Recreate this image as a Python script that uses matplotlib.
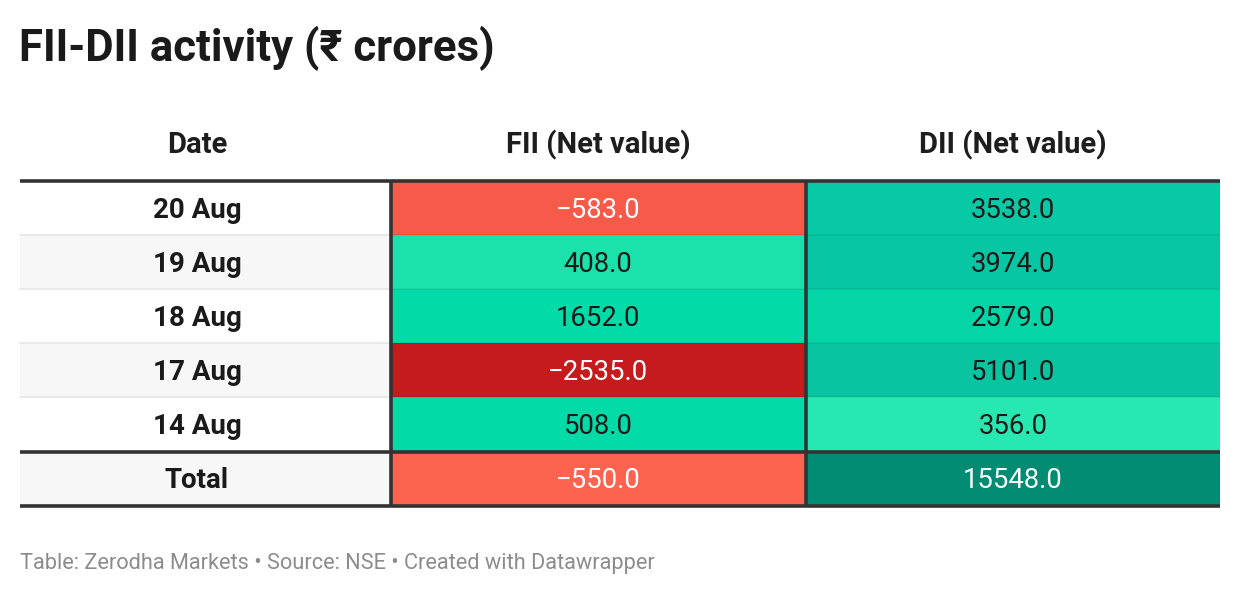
import matplotlib
matplotlib.use("Agg")
import matplotlib.pyplot as plt
from matplotlib.patches import Rectangle

plt.rcParams['font.family'] = ['Roboto', 'DejaVu Sans']

title = "FII-DII activity (₹ crores)"
footer = "Table: Zerodha Markets • Source: NSE • Created with Datawrapper"
headers = ["Date", "FII (Net value)", "DII (Net value)"]
dates = ["20 Aug", "19 Aug", "18 Aug", "17 Aug", "14 Aug", "Total"]
fii = [-583.0, 408.0, 1652.0, -2535.0, 508.0, -550.0]
dii = [3538.0, 3974.0, 2579.0, 5101.0, 356.0, 15548.0]

# cell fills as rendered in the source heatmap
fii_colors = ['#f75a48', '#1ae2aa', '#00dba8', '#c51b1c', '#00dba8', '#fe634f']
dii_colors = ['#08c9a5', '#07c6a3', '#03d5a7', '#08c4a0', '#28e8b2', '#008c72']
fii_text = ['white', '#1a1a1a', '#1a1a1a', 'white', '#1a1a1a', 'white']
dii_text = ['#1a1a1a', '#1a1a1a', '#1a1a1a', '#1a1a1a', '#1a1a1a', 'white']

W, H = 1240, 596
fig = plt.figure(figsize=(W / 100, H / 100), dpi=100)
ax = fig.add_axes([0, 0, 1, 1])
ax.set_xlim(0, W)
ax.set_ylim(H, 0)
ax.axis('off')

left, right = 20, 1220
col_edges = [left, 391, 806, right]
col_centers = [197, 598, 1013]
top = 181
row_h = 54
dark = '#333333'

def fmt(v):
    s = f"{abs(v):.1f}"
    return ("\u2212" + s) if v < 0 else s

ax.text(19, 61, title, fontsize=31.5, fontweight='bold', color='#1a1a1a', va='baseline')

for i, h in enumerate(headers):
    ax.text(col_centers[i], 153, h, fontsize=21, fontweight='bold', color='#1d1d1d',
            ha='center', va='baseline')

for r, d in enumerate(dates):
    y0 = top + r * row_h + (1 if r == len(dates) - 1 else 0)
    y1 = y0 + row_h
    bg = '#f7f7f7' if r % 2 == 1 else 'white'
    ax.add_patch(Rectangle((col_edges[0], y0), col_edges[1] - col_edges[0], row_h,
                           facecolor=bg, edgecolor='none', zorder=1))
    ax.add_patch(Rectangle((col_edges[1], y0), col_edges[2] - col_edges[1], row_h,
                           facecolor=fii_colors[r], edgecolor='none', zorder=1))
    ax.add_patch(Rectangle((col_edges[2], y0), col_edges[3] - col_edges[2], row_h,
                           facecolor=dii_colors[r], edgecolor='none', zorder=1))
    base = (y0 + y1) / 2 + 9.5
    ax.text(col_centers[0], base, d, fontsize=20, fontweight='bold',
            color='#1a1a1a', ha='center', va='baseline', zorder=3)
    ax.text(col_centers[1], base, fmt(fii[r]), fontsize=19.8,
            color=fii_text[r], ha='center', va='baseline', zorder=3)
    ax.text(col_centers[2], base, fmt(dii[r]), fontsize=19.8,
            color=dii_text[r], ha='center', va='baseline', zorder=3)
    if 0 < r < len(dates) - 1:
        ax.plot([col_edges[0], col_edges[1]], [y0, y0], color='#e6e6e6', lw=1.2, zorder=2)
        ax.plot([col_edges[1], col_edges[3]], [y0, y0], color='black', alpha=0.06, lw=1.5, zorder=2)

bottom = top + len(dates) * row_h + 1
sep = top + (len(dates) - 1) * row_h
ax.plot([left, right], [top, top], color=dark, lw=2.6, zorder=4, solid_capstyle='butt')
ax.plot([left, right], [sep + 0.5, sep + 0.5], color=dark, lw=2.6, zorder=4, solid_capstyle='butt')
ax.plot([left, right], [bottom, bottom], color=dark, lw=2.6, zorder=4, solid_capstyle='butt')
for x in col_edges[1:3]:
    ax.plot([x, x], [top, bottom], color=dark, lw=2.6, zorder=4, solid_capstyle='butt')

ax.text(20, 569, footer, fontsize=15.7, color='#8c8c8c', va='baseline')

fig.savefig('out.png', dpi=100, facecolor='white')
